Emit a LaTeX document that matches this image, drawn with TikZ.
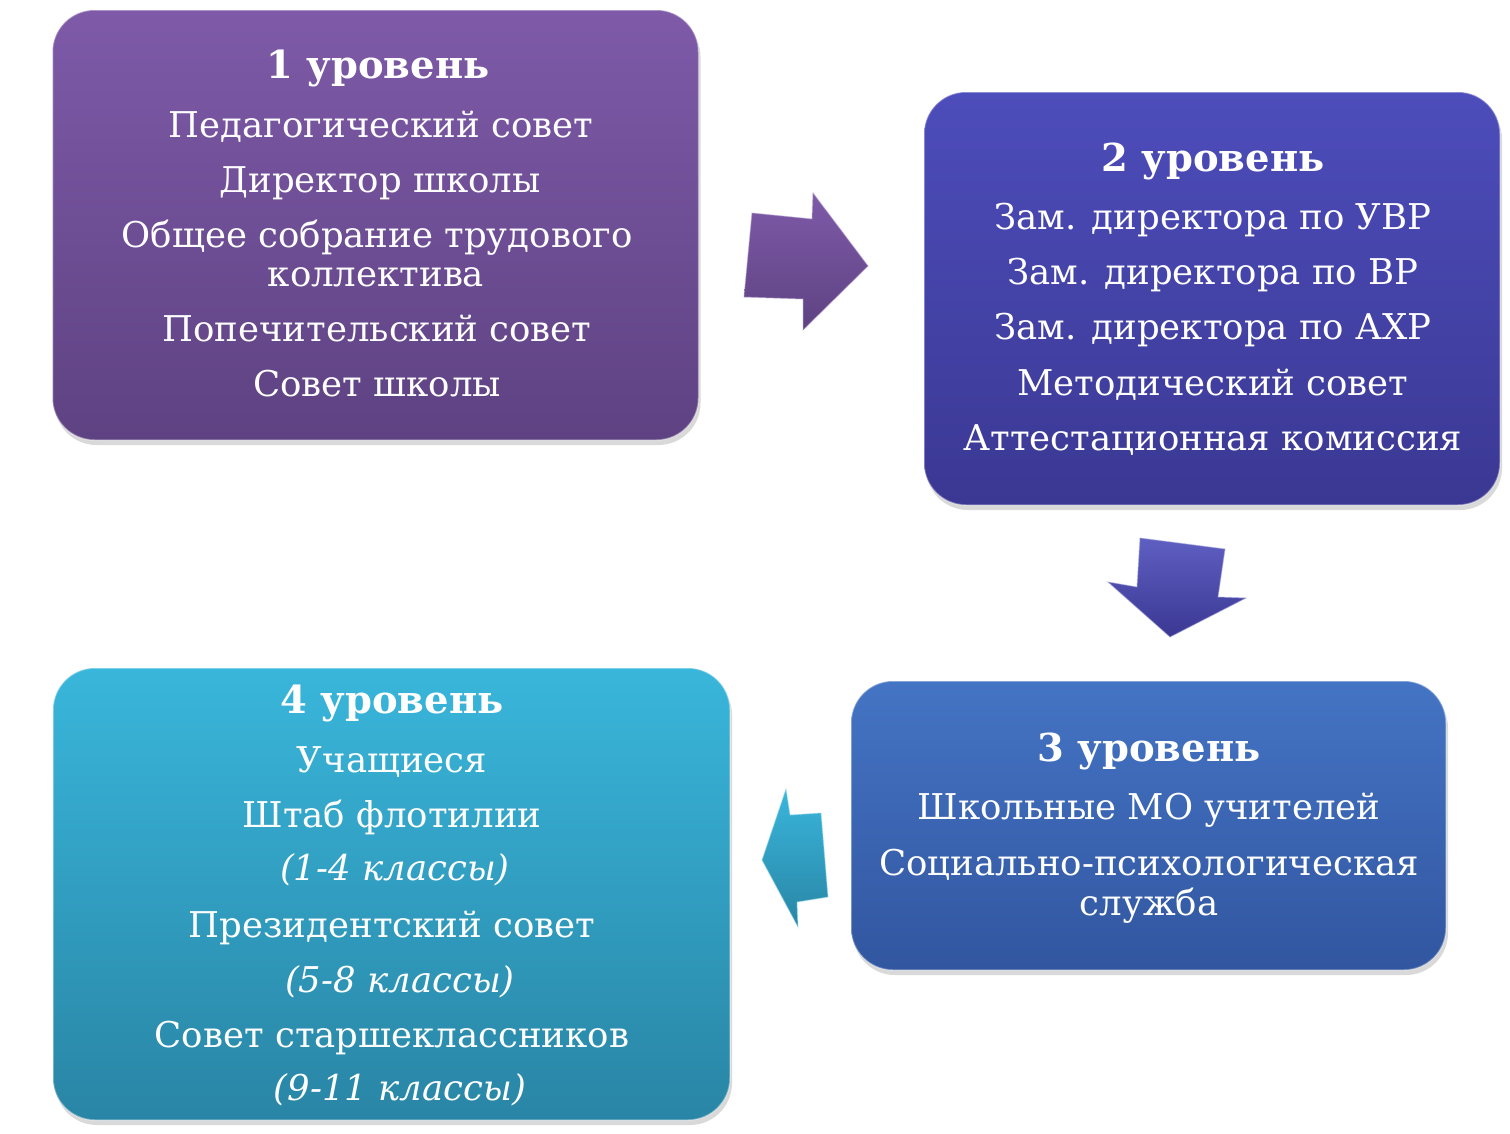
\documentclass[tikz,border=0pt]{standalone}
\usepackage{fontspec}
\setmainfont{DejaVu Serif}
\usetikzlibrary{shadows}
\definecolor{pTop}{HTML}{7E5AA8}\definecolor{pBot}{HTML}{5E4282}
\definecolor{vTop}{HTML}{4D4DBB}\definecolor{vBot}{HTML}{3B3893}
\definecolor{bTop}{HTML}{4474C4}\definecolor{bBot}{HTML}{3256A0}
\definecolor{cTop}{HTML}{39B6DB}\definecolor{cBot}{HTML}{2985A5}
\tikzset{
  box/.style={rectangle, rounded corners=42pt, inner sep=0pt,
    draw=white, draw opacity=0.35, line width=1.5pt,
    drop shadow={opacity=0.3, shadow xshift=2pt, shadow yshift=-5pt}},
  head/.style={anchor=base, text=white, font=\fontsize{38.5}{38.5}\selectfont\bfseries},
  line/.style={anchor=base, text=white, font=\fontsize{35.5}{35.5}\selectfont},
  ital/.style={anchor=base, text=white, font=\fontsize{35.5}{35.5}\selectfont\itshape},
  arr/.style={line width=1pt, draw opacity=0.5}
}
\begin{document}
\begin{tikzpicture}[x=1pt,y=-1pt]
\useasboundingbox (0,0) rectangle (1510,1133);
% boxes
\node[box, top color=pTop, bottom color=pBot, minimum width=646pt, minimum height=430pt] (b1) at (375.5,225) {};
\node[box, top color=vTop, bottom color=vBot, minimum width=576pt, minimum height=413pt] (b2) at (1212,298.5) {};
\node[box, top color=bTop, bottom color=bBot, minimum width=595pt, minimum height=289pt] (b3) at (1148.5,825.5) {};
\node[box, top color=cTop, bottom color=cBot, minimum width=677pt, minimum height=452pt] (b4) at (391.5,894) {};
% arrows
\shade[top color=pTop, bottom color=pBot] (752,213) -- (812,219) -- (813,193) -- (868,266) -- (803,330) -- (803,299) -- (744,297) -- cycle;
\draw[arr, draw=pTop!60!white] (752,213) -- (812,219) -- (813,193) -- (868,266) -- (803,330) -- (803,299) -- (744,297) -- cycle;
\shade[top color=vTop!90!white, bottom color=vBot] (1140,538) -- (1225,549) -- (1218,597) -- (1246,598) -- (1170,637) -- (1108,582) -- (1137,587) -- cycle;
\draw[arr, draw=vTop!50!white] (1140,538) -- (1225,549) -- (1218,597) -- (1246,598) -- (1170,637) -- (1108,582) -- (1137,587) -- cycle;
\shade[top color=cTop, bottom color=cBot] (786,789) -- (790,815) -- (821,813) -- (828,897) -- (797,902) -- (798,927) -- (762,860) -- cycle;
\draw[arr, draw=cTop!50!white] (786,789) -- (790,815) -- (821,813) -- (828,897) -- (797,902) -- (798,927) -- (762,860) -- cycle;
% box 1 text
\node[head] (h1) at (378,78) {1 уровень};
\node[line] (t11) at (381,137) {Педагогический совет};
\node[line] (t12) at (380,192) {Директор школы};
\node[line] (t13) at (377,247) {Общее собрание трудового};
\node[line] (t14) at (376,286) {коллектива};
\node[line] (t15) at (377,341) {Попечительский совет};
\node[line] (t16) at (377,396) {Совет школы};
% box 2 text
\node[head] (h2) at (1213,171) {2 уровень};
\node[line] (t21) at (1213,229) {Зам. директора по УВР};
\node[line] (t22) at (1213,284) {Зам. директора по ВР};
\node[line] (t23) at (1213,339) {Зам. директора по АХР};
\node[line] (t24) at (1213,395) {Методический совет};
\node[line] (t25) at (1213,450) {Аттестационная комиссия};
% box 3 text
\node[head] (h3) at (1149,761) {3 уровень};
\node[line] (t31) at (1149,819) {Школьные МО учителей};
\node[line] (t32) at (1149,875) {Социально-психологическая};
\node[line] (t33) at (1149,915) {служба};
% box 4 text
\node[head] (h4) at (392,713) {4 уровень};
\node[line] (t41) at (392,772) {Учащиеся};
\node[line] (t42) at (392,827) {Штаб флотилии};
\node[ital] (t43) at (395,880) {(1-4 классы)};
\node[line] (t44) at (392,937) {Президентский совет};
\node[ital] (t45) at (400,992) {(5-8 классы)};
\node[line] (t46) at (392,1047) {Совет старшеклассников};
\node[ital] (t47) at (400,1100) {(9-11 классы)};
\end{tikzpicture}
\end{document}
